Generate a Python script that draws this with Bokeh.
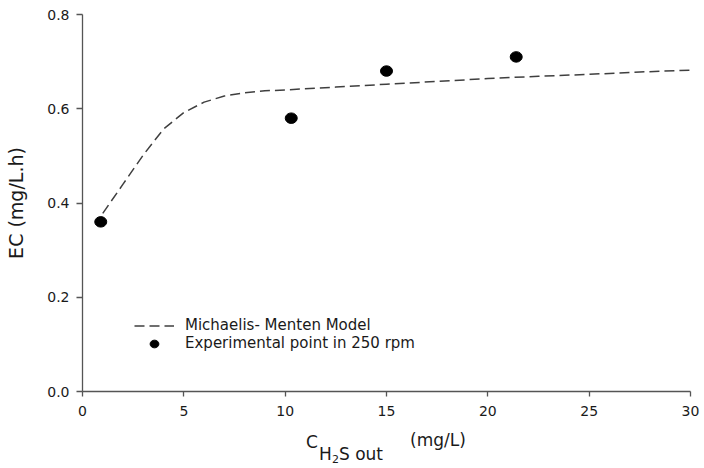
from bokeh.plotting import figure
from bokeh.models import Legend, LegendItem, FixedTicker, Range1d, Div
from bokeh.layouts import column
from bokeh.embed import file_html
from bokeh.resources import INLINE

# Experimental points (250 rpm)
exp_c = [0.9, 10.3, 15.0, 21.4]
exp_ec = [0.36, 0.58, 0.68, 0.71]

# Michaelis-Menten model curve
model_c = [1.0, 2.0, 3.0, 4.0, 5.0, 6.0, 7.0, 8.0, 9.0, 10.0,
           12.5, 15.0, 17.5, 20.0, 22.5, 25.0, 27.5, 30.0]
model_ec = [0.378, 0.44, 0.502, 0.557, 0.592, 0.614, 0.627, 0.634, 0.638, 0.640,
            0.646, 0.652, 0.658, 0.664, 0.669, 0.673, 0.678, 0.682]

x_ticks = [0, 5, 10, 15, 20, 25, 30]
y_ticks = [0.0, 0.2, 0.4, 0.6, 0.8]

FONT = "DejaVu Sans"
AXIS_COLOR = "#555555"
TEXT_COLOR = "#1a1a1a"

PLOT_H = 425
TITLE_H = 468 - PLOT_H

p = figure(width=704, height=PLOT_H, output_backend="svg", toolbar_location=None,
           x_range=Range1d(0, 30), y_range=Range1d(0, 0.8),
           min_border_left=82, min_border_right=14, min_border_top=14, min_border_bottom=34,
           margin=0)
p.outline_line_color = None
p.grid.visible = False
p.background_fill_color = "white"
p.border_fill_color = "white"

for ax in (p.xaxis[0], p.yaxis[0]):
    ax.axis_line_color = AXIS_COLOR
    ax.axis_line_width = 1.3
    ax.major_tick_line_color = AXIS_COLOR
    ax.major_tick_line_width = 1.3
    ax.major_tick_in = 0
    ax.minor_tick_line_color = None
    ax.major_label_text_font = FONT
    ax.major_label_text_font_size = "14px"
    ax.major_label_text_color = TEXT_COLOR

p.xaxis.ticker = FixedTicker(ticks=x_ticks)
p.yaxis.ticker = FixedTicker(ticks=y_ticks)
p.yaxis.major_label_overrides = {t: f"{t:.1f}" for t in y_ticks}
p.xaxis.major_tick_out = 5
p.yaxis.major_tick_out = 6
p.xaxis.major_label_standoff = 9
p.yaxis.major_label_standoff = 7

p.yaxis.axis_label = "EC (mg/L.h)"
p.yaxis.axis_label_text_font = FONT
p.yaxis.axis_label_text_font_style = "normal"
p.yaxis.axis_label_text_font_size = "19px"
p.yaxis.axis_label_text_color = TEXT_COLOR
p.yaxis.axis_label_standoff = 17

line_r = p.line(model_c, model_ec, line_color="#3f3f3f", line_width=1.5, line_dash="10 5")
pts_r = p.ellipse(exp_c, exp_ec, width=12, height=10.5,
                  width_units="screen", height_units="screen",
                  fill_color="black", line_color="black")

legend = Legend(items=[LegendItem(label="Michaelis- Menten Model", renderers=[line_r]),
                       LegendItem(label="Experimental point in 250 rpm", renderers=[pts_r])],
                location=(52, 39), orientation="vertical",
                border_line_color=None, background_fill_alpha=0,
                padding=0, margin=0, spacing=0,
                glyph_width=40, glyph_height=11, label_height=18,
                label_standoff=11,
                label_text_font=FONT, label_text_font_size="15px",
                label_text_color=TEXT_COLOR)
p.add_layout(legend, "center")

# x-axis title with nested subscripts (C_{H2S out} (mg/L)), as HTML below the plot
span = ("position:absolute;left:{l}px;top:{t}px;font-family:'DejaVu Sans',sans-serif;"
        "font-size:{fs}px;line-height:{fs}px;color:" + TEXT_COLOR + ";white-space:nowrap;")
parts = [
    ("C", 306, 9, 17),
    ("H", 319, 21, 17),
    ("2", 332, 29, 11),
    ("S out", 339, 21, 17),
    ("(mg/L)", 410, 7, 17),
]
html = ('<div style="position:relative;width:704px;height:%dpx;">' % TITLE_H
        + "".join('<span style="%s">%s</span>' % (span.format(l=l, t=t, fs=fs), txt)
                  for txt, l, t, fs in parts)
        + "</div>")
xtitle = Div(text=html, width=704, height=TITLE_H, margin=0,
             styles={"background-color": "white"})

layout = column(p, xtitle, spacing=0, margin=0)

open("out.html", "w").write(file_html(layout, INLINE))
